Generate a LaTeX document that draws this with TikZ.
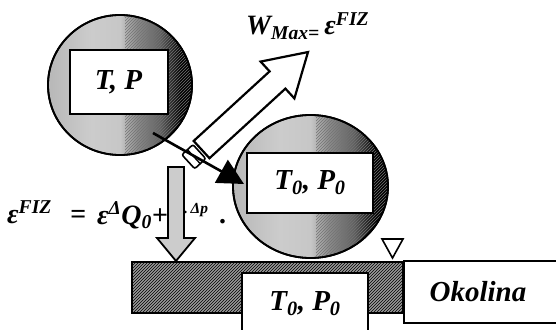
\documentclass[tikz,border=0pt]{standalone}
\usepackage{fontspec}
\setmainfont{Liberation Serif}
\usetikzlibrary{arrows.meta,patterns,shapes.geometric}
\pgfdeclarehorizontalshading{ballshade}{100bp}{color(0bp)=(black!28); color(25bp)=(black!28); color(40bp)=(black!20); color(50bp)=(black!22); color(56bp)=(black!45); color(64bp)=(black!62); color(68bp)=(black!85); color(71bp)=(black); color(100bp)=(black)}
\tikzset{
  ball/.style={ellipse, draw, line width=1.8pt, shade, shading=ballshade, inner sep=0pt},
  box/.style={draw, fill=white, line width=2pt, inner sep=0pt, font=\bfseries\itshape\fontsize{29}{32}\selectfont},
  barstyle/.style={draw, line width=2pt, fill=black!40, postaction={pattern=north east lines}, inner sep=0pt},
  eqt/.style={inner sep=0pt, font=\bfseries\itshape\fontsize{28}{30}\selectfont},
  warrow/.style={draw, fill=white, line width=2.2pt, line join=miter},
  darrow/.style={draw, fill=black!20, line width=1.8pt, line join=miter},
  collar/.style={draw, fill=white, line width=1.6pt, rounded corners=2pt},
  thinarrow/.style={line width=2.6pt, -{Triangle[length=26pt,width=26pt]}},
  hatch/.style={pattern=north east lines, pattern color=black!55}
}
\begin{document}
\begin{tikzpicture}[x=1pt,y=-1pt]
\useasboundingbox (0,0) rectangle (556,329);
\clip (0,0) rectangle (556,329);
% balls
\node[ball, minimum width=144pt, minimum height=140pt] (b1) at (120,85) {};
\begin{scope}
  \clip (120,85) ellipse [x radius=72pt, y radius=70pt];
  \fill[hatch] (125,10) rectangle (200,160);
\end{scope}
\draw[line width=1.8pt] (b1.center) ellipse [x radius=72pt, y radius=70pt];
\node[box, minimum width=98pt, minimum height=64pt] (tp) at (118.5,82) {T, P};
\node[ball, minimum width=155pt, minimum height=143pt] (b2) at (310.5,186.5) {};
\begin{scope}
  \clip (310.5,186.5) ellipse [x radius=77.5pt, y radius=71.5pt];
  \fill[hatch] (316,110) rectangle (395,265);
\end{scope}
\draw[line width=1.8pt] (b2.center) ellipse [x radius=77.5pt, y radius=71.5pt];
\node[box, minimum width=126pt, minimum height=60pt] (tp2) at (310,183) {T\textsubscript{0}, P\textsubscript{0}};
% bar and surroundings
\node[barstyle, minimum width=271pt, minimum height=51pt] (bar) at (267.5,287.5) {};
\node[box, minimum width=126pt, minimum height=62pt, anchor=north] (tp3) at (305,272) {T\textsubscript{0}, P\textsubscript{0}};
\node[box, minimum width=162pt, minimum height=62pt, anchor=north west] (ok) at (403,260) {Okolina\hspace*{14pt}};
\draw[fill=white, line width=1.6pt, line join=miter] (382,239) -- (403,239) -- (392.5,258) -- cycle;
% equation
\node[eqt, anchor=base west] (e1) at (7,223) {ε\textsuperscript{FIZ}};
\node[eqt, anchor=base west] (e2) at (70,223) {=};
\node[eqt, anchor=base west] (e3) at (97,224) {ε\textsuperscript{Δ}Q\textsubscript{0}+};
\node[eqt, anchor=base west, font=\bfseries\itshape\fontsize{22}{24}\selectfont] (e4) at (184,221) {\textsuperscript{.\,Δp}};
\node[eqt, anchor=base west] (e5) at (220,223) {.};
% down arrow
\draw[darrow] (168,167) -- (184,167) -- (184,238) -- (195,238) -- (176,261) -- (157,238) -- (168,238) -- cycle;
% work arrow
\begin{scope}[shift={(277.5,80)}, rotate=42.5]
  \draw[warrow] (-103,-11.7) -- (0,-11.7) -- (0,-25) -- (41.4,0) -- (0,25) -- (0,11.7) -- (-103,11.7) -- cycle;
  \draw[collar] (-121,-9.5) rectangle (-106,9.5);
  \draw[line width=1.4pt] (-113.5,-9.5) -- (-113.5,9.5);
\end{scope}
% thin arrow
\coordinate (a1) at (153,133);
\coordinate (a2) at (244,184);
\draw[thinarrow] (a1) -- (a2);
% W max label
\node[inner sep=0pt, anchor=base west, font=\bfseries\itshape\fontsize{28}{30}\selectfont] (wmax) at (246,35) {W\textsubscript{Max=}\,ε\textsuperscript{FIZ}};
\end{tikzpicture}
\end{document}
